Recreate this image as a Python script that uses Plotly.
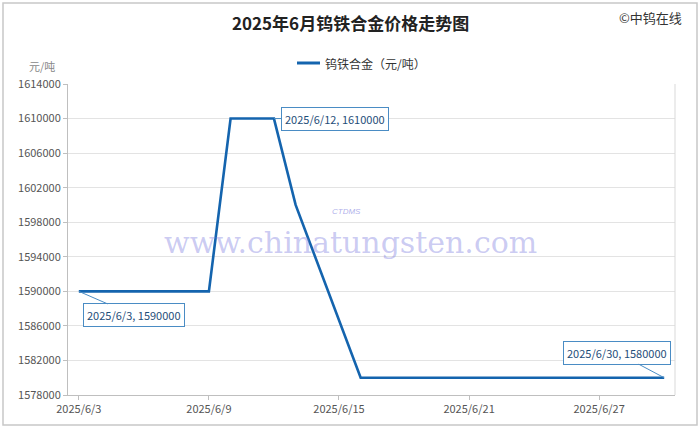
import plotly.graph_objects as go
import pandas as pd

dates = ["2025-06-03", "2025-06-04", "2025-06-05", "2025-06-06", "2025-06-09",
         "2025-06-10", "2025-06-11", "2025-06-12", "2025-06-13",
         "2025-06-16", "2025-06-17", "2025-06-18", "2025-06-19", "2025-06-20",
         "2025-06-23", "2025-06-24", "2025-06-25", "2025-06-26", "2025-06-27",
         "2025-06-30"]
prices = [1590000, 1590000, 1590000, 1590000, 1590000,
          1610000, 1610000, 1610000, 1600000,
          1580000, 1580000, 1580000, 1580000, 1580000,
          1580000, 1580000, 1580000, 1580000, 1580000,
          1580000]
tick_dates = ["2025-06-03", "2025-06-09", "2025-06-15", "2025-06-21", "2025-06-27"]
tick_labels = ["2025/6/3", "2025/6/9", "2025/6/15", "2025/6/21", "2025/6/27"]
y_ticks = list(range(1578000, 1614001, 4000))

series_name = "钨铁合金（元/吨）"
title = "2025年6月钨铁合金价格走势图"
line_color = "#1464AE"
font_cjk = "Noto Sans CJK SC"

L, R, T, B = 68, 25, 84, 33
PW, PH = 700 - L - R, 428 - T - B


def px_x(px):
    return (px - L) / PW


def px_y(py):
    return (428 - B - py) / PH


fig = go.Figure()
fig.add_trace(go.Scatter(x=dates, y=prices, mode="lines", name=series_name,
                         line=dict(color=line_color, width=2.6), showlegend=False))

# callout annotations
callouts = [(0, 55, 24), (7, 61, 0), (19, -47, -25)]
for idx, ax, ay in callouts:
    d = pd.Timestamp(dates[idx])
    fig.add_annotation(x=dates[idx], y=prices[idx],
                       text=f"{d.year}/{d.month}/{d.day}, {prices[idx]}",
                       showarrow=True, arrowhead=0, arrowwidth=1, arrowcolor="#4A8CC4",
                       ax=ax, ay=ay, bgcolor="white", bordercolor="#4A8CC4",
                       borderwidth=1, borderpad=3,
                       font=dict(family=font_cjk, size=11, color="#1F4E79"))


def label(px, py, text, size, color, family=font_cjk, xanchor="center"):
    fig.add_annotation(xref="paper", yref="paper", x=px_x(px), y=px_y(py),
                       xanchor=xanchor, yanchor="middle", text=text, showarrow=False,
                       font=dict(family=family, size=size, color=color))


# watermark
label(350, 242, "www.chinatungsten.com", 30, "rgba(130,130,225,0.42)",
      family="DejaVu Serif, Liberation Serif")
label(346, 211, "<i>CTDMS</i>", 8, "rgba(120,120,220,0.6)", family="Liberation Sans")

# titles and labels
label(350, 22, "<b>" + title + "</b>", 17, "#222")
label(650, 18, "©中钨在线", 13, "#333")
label(42, 66, "元/吨", 11, "#888")
label(323, 63, series_name, 12, "#333", xanchor="left")

fig.update_layout(
    width=700, height=428,
    margin=dict(l=L, r=R, t=T, b=B, autoexpand=False),
    paper_bgcolor="white", plot_bgcolor="white",
    showlegend=False,
    xaxis=dict(type="date", range=["2025-06-02 12:00", "2025-06-30 12:00"],
               tickvals=tick_dates, ticktext=tick_labels, showgrid=False,
               showline=True, linecolor="#BFBFBF", ticks="outside", ticklen=4,
               tickcolor="#BFBFBF", automargin=False,
               tickfont=dict(family=font_cjk, size=11, color="#555")),
    yaxis=dict(range=[1578000, 1614000], tickvals=y_ticks,
               ticktext=[str(v) for v in y_ticks], showgrid=True, gridcolor="#E3E3E3",
               showline=True, linecolor="#BFBFBF", ticks="outside", ticklen=4,
               tickcolor="#BFBFBF", zeroline=False, automargin=False,
               tickfont=dict(family=font_cjk, size=11, color="#555")),
    shapes=[dict(type="rect", xref="paper", yref="paper", x0=px_x(3), x1=px_x(697),
                 y0=px_y(425), y1=px_y(3), line=dict(color="#C8C8C8", width=1.5)),
            dict(type="line", xref="paper", yref="paper", x0=1, x1=1, y0=0, y1=1,
                 line=dict(color="#D9D9D9", width=1)),
            dict(type="line", xref="paper", yref="paper", x0=px_x(297), x1=px_x(320),
                 y0=px_y(63), y1=px_y(63), line=dict(color=line_color, width=3))],
)
fig.write_html("out.html", config={"displayModeBar": False},
               post_script="document.body.style.margin='0';")
